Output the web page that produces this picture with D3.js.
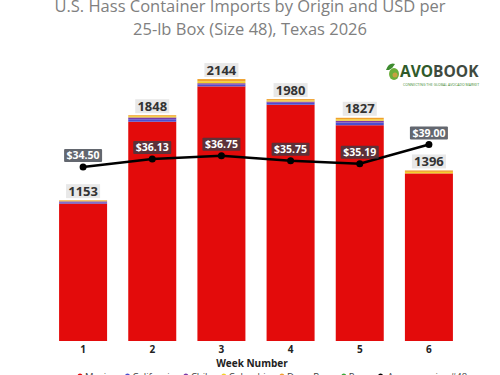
<!DOCTYPE html>
<html><head><meta charset="utf-8">
<script src="https://cdn.jsdelivr.net/npm/d3@7"></script>
<style>html,body{margin:0;padding:0;background:#fff;overflow:hidden}svg{display:block}</style>
</head><body>
<svg id="c" width="500" height="375"></svg>
<script>
const weeks = ["1","2","3","4","5","6"];
const mexico     = [1125, 1795, 2084, 1934, 1766, 1372];
const california = [10, 20, 14, 16, 22, 0];
const chile      = [8, 15, 12, 10, 15, 0];
const colombia   = [6, 10, 16, 10, 12, 12];
const domRep     = [4, 8, 18, 10, 12, 12];
const peru       = [0, 0, 0, 0, 0, 0];
const totals     = [1153, 1848, 2144, 1980, 1827, 1396];
const avgPrice   = [34.50, 36.13, 36.75, 35.75, 35.19, 39.00];
const seriesNames = ["Mexico","California","Chile","Colombia","Dom. Rep.","Peru"];
const seriesColors = ["#e30b0b","#4b4fd0","#7a3aa8","#f3d12a","#f0a02c","#3aa93a"];
const avgLabel = "Average price #48";

const svg = d3.select("#c");
const font = "'Open Sans', 'Noto Sans', sans-serif";
const baseY = 341, topY = 60;
const x = d3.scaleBand().domain(weeks).range([48.5, 463.5]).paddingInner(0.306).paddingOuter(0.153);
const yV = d3.scaleLinear().domain([0, 2300]).range([baseY, topY]);
const yP = d3.scaleLinear().domain([0, 55.75]).range([baseY, topY]);

// title
const title = svg.append("g").attr("font-family", font).attr("fill", "#808080").attr("text-anchor", "middle").attr("font-size", 16.5);
title.append("text").attr("x", 250).attr("y", 12).text("U.S. Hass Container Imports by Origin and USD per");
title.append("text").attr("x", 250).attr("y", 35).text("25-lb Box (Size 48), Texas 2026");

// stacked data
const keys = seriesNames;
const rows = weeks.map((w, i) => ({week: w, Mexico: mexico[i], California: california[i], Chile: chile[i], Colombia: colombia[i], "Dom. Rep.": domRep[i], Peru: peru[i]}));
const stack = d3.stack().keys(keys)(rows);
const color = d3.scaleOrdinal().domain(keys).range(seriesColors);

svg.append("g").selectAll("g").data(stack).join("g").attr("fill", d => color(d.key))
  .selectAll("rect").data(d => d).join("rect")
  .attr("x", d => x(d.data.week)).attr("width", x.bandwidth())
  .attr("y", d => yV(d[1])).attr("height", d => Math.max(0, yV(d[0]) - yV(d[1])));

// total labels
const tl = svg.append("g").attr("font-family", font).attr("font-weight", "bold").attr("font-size", 13);
weeks.forEach((w, i) => {
  const cx = x(w) + x.bandwidth() / 2, ty = yV(totals[i]);
  tl.append("rect").attr("x", cx - 17).attr("y", ty - 16).attr("width", 34).attr("height", 14).attr("fill", "#e8e8e8");
  tl.append("text").attr("x", cx).attr("y", ty - 4.5).attr("text-anchor", "middle").attr("fill", "#333").text(totals[i]);
});

// line
const lineGen = d3.line().x((d, i) => x(weeks[i]) + x.bandwidth() / 2).y(d => yP(d));
svg.append("path").datum(avgPrice).attr("d", lineGen).attr("fill", "none").attr("stroke", "#000").attr("stroke-width", 2.5);
svg.append("g").selectAll("circle").data(avgPrice).join("circle")
  .attr("cx", (d, i) => x(weeks[i]) + x.bandwidth() / 2).attr("cy", d => yP(d)).attr("r", 3.5).attr("fill", "#000");

// price labels
const pl = svg.append("g").attr("font-family", font).attr("font-weight", "bold").attr("font-size", 10.5);
avgPrice.forEach((p, i) => {
  const cx = x(weeks[i]) + x.bandwidth() / 2, py = yP(p);
  pl.append("rect").attr("x", cx - 19).attr("y", py - 18).attr("width", 38).attr("height", 13).attr("rx", 1)
    .attr("fill", "rgba(55,60,70,0.78)");
  pl.append("text").attr("x", cx).attr("y", py - 7.8).attr("text-anchor", "middle").attr("fill", "#fff").text("$" + p.toFixed(2));
});

// x axis labels
const ax = svg.append("g").attr("transform", `translate(0,${baseY})`)
  .call(d3.axisBottom(x).tickSize(0).tickPadding(5));
ax.select(".domain").remove();
ax.selectAll("text").attr("font-family", font).attr("font-weight", "bold").attr("font-size", 10).attr("fill", "#222");
svg.append("text").attr("x", 252).attr("y", 367).attr("text-anchor", "middle").attr("font-family", font)
  .attr("font-weight", "bold").attr("font-size", 10).attr("fill", "#222").text("Week Number");

// legend (laid out sequentially)
const lg = svg.append("g").attr("font-family", font).attr("font-size", 9.5).attr("fill", "#444");
let lx = 80;
const ly = 379.5;
seriesNames.forEach((n, i) => {
  lg.append("circle").attr("cx", lx).attr("cy", ly - 3.5).attr("r", 2.5).attr("fill", seriesColors[i]);
  const t = lg.append("text").attr("x", lx + 5).attr("y", ly).text(n);
  lx += 5 + t.node().getComputedTextLength() + 11;
});
lg.append("line").attr("x1", lx - 4).attr("x2", lx + 4).attr("y1", ly - 3.5).attr("y2", ly - 3.5).attr("stroke", "#000").attr("stroke-width", 2);
lg.append("circle").attr("cx", lx).attr("cy", ly - 3.5).attr("r", 2.5).attr("fill", "#000");
lg.append("text").attr("x", lx + 7).attr("y", ly).text(avgLabel);

// logo
const logo = svg.append("g").attr("font-family", font);
logo.append("path").attr("d", "M386,70 q3,-8 9,-6 q-2,4 -6,6 z").attr("fill", "#3d8b2f");
logo.append("ellipse").attr("cx", 394).attr("cy", 74).attr("rx", 5).attr("ry", 6).attr("fill", "#6cae3a");
logo.append("circle").attr("cx", 395).attr("cy", 75).attr("r", 2.5).attr("fill", "#c8a040");
const lt = logo.append("text").attr("x", 400).attr("y", 77).attr("font-size", 15.5).attr("font-weight", "bold");
lt.append("tspan").attr("fill", "#2f5a2a").text("AVO");
lt.append("tspan").attr("fill", "#3f4a40").text("BOOK");
logo.append("text").attr("x", 403).attr("y", 86).attr("font-size", 3.5).attr("fill", "#3d8b2f").text("CONNECTING THE GLOBAL AVOCADO MARKET");
</script>
</body></html>
